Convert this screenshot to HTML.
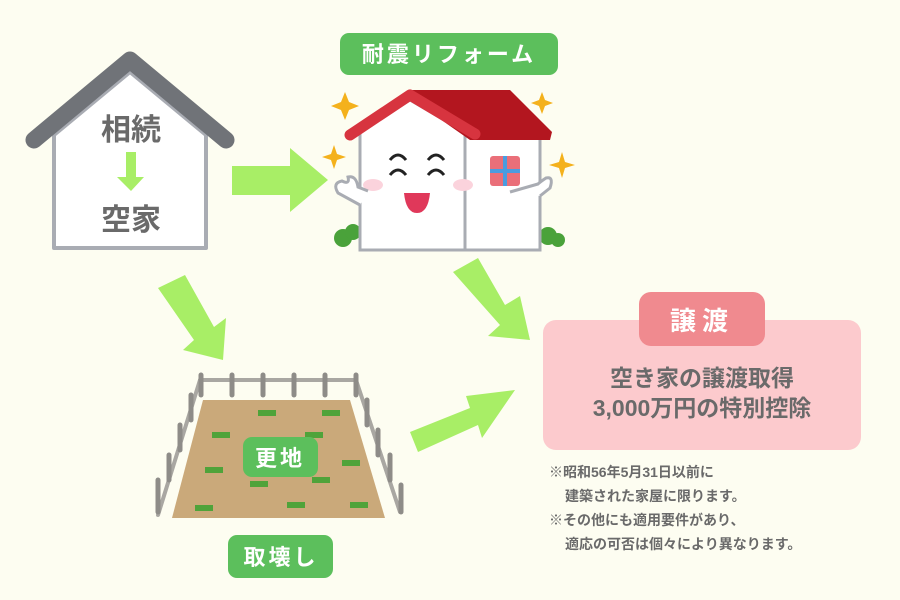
<!DOCTYPE html>
<html><head><meta charset="utf-8"><style>
html,body{margin:0;padding:0;background:#fdfdf1;}
svg{display:block}
text{font-family:"Liberation Sans","Noto Sans CJK JP",sans-serif;font-weight:bold}
</style></head><body>
<svg width="900" height="600" viewBox="0 0 900 600" xmlns="http://www.w3.org/2000/svg">
<rect width="900" height="600" fill="#fdfdf1"/>
<!-- gray house -->
<polygon points="54,135 130,72 206,135 206,248 54,248" fill="#fff" stroke="#a9acb3" stroke-width="4" stroke-linejoin="round"/>
<polyline points="34,140 130,60 226,140" fill="none" stroke="#707378" stroke-width="17" stroke-linecap="round" stroke-linejoin="round"/>
<text x="131" y="140" font-size="30" fill="#6a6a6a" text-anchor="middle">相続</text>
<polygon points="126,152 136,152 136,177 144,177 131,191 117,177 126,177" fill="#a8ee66"/>
<text x="131" y="230" font-size="30" fill="#6a6a6a" text-anchor="middle">空家</text>
<!-- arrows -->
<polygon points="232,166 290,166 290,148 328,180 290,212 290,195 232,195" fill="#a8ee66"/>
<polygon points="158,288 185,275 214,327 226,318 223,360 183,350 194,340" fill="#a8ee66"/>
<polygon points="453,272 478,258 505,305 520,296 530,340 488,336 500,325" fill="#a8ee66"/>
<polygon points="410,432 470,408 466,396 515,390 482,438 478,425 418,452" fill="#a8ee66"/>
<!-- reform label -->
<rect x="340" y="33" width="218" height="42" rx="9" fill="#5cbf5c"/>
<text x="449" y="62" font-size="22" fill="#fff" text-anchor="middle" letter-spacing="3">耐震リフォーム</text>
<!-- reform house -->
<circle cx="343" cy="238" r="9" fill="#4aa23a"/><circle cx="353" cy="232" r="8" fill="#4aa23a"/>
<circle cx="548" cy="236" r="9" fill="#4aa23a"/><circle cx="558" cy="240" r="7" fill="#4aa23a"/>
<polygon points="360,130 410,100 465,132 465,250 360,250" fill="#fff" stroke="#a9acb3" stroke-width="3"/>
<rect x="465" y="130" width="75" height="120" fill="#fff" stroke="#a9acb3" stroke-width="3"/>
<polygon points="410,90 510,90 552,132 550,140 470,140 410,98" fill="#b3161f"/>
<polyline points="350,135 410,95 475,134" fill="none" stroke="#d7343f" stroke-width="11" stroke-linecap="round" stroke-linejoin="round"/>
<path d="M390 160 q8 -10 16 0 M428 160 q8 -10 16 0 M390 175 q8 -10 16 0 M428 175 q8 -10 16 0" stroke="#222" stroke-width="3" fill="none"/>
<ellipse cx="373" cy="185" rx="10" ry="6" fill="#fbd3dc"/><ellipse cx="463" cy="185" rx="10" ry="6" fill="#fbd3dc"/>
<path d="M404 193 q14 0 26 0 q-2 20 -13 20 q-11 0 -13 -20z" fill="#e0385a"/>
<rect x="490" y="156" width="30" height="30" rx="3" fill="#ea6f79"/>
<rect x="503" y="156" width="4" height="30" fill="#4a9ce0"/><rect x="490" y="169" width="30" height="4" fill="#4a9ce0"/>
<path d="M360 205 l-22 -12 q-6 -10 4 -12 q8 4 6 -4 q8 -2 10 10 l10 4" fill="#fff" stroke="#a9acb3" stroke-width="3"/>
<path d="M540 196 l10 -8 q4 -12 -4 -10 q-6 4 -8 6 l-28 8" fill="#fff" stroke="#a9acb3" stroke-width="3"/>
<g fill="#f4b11c">
<path d="M345 92 l4 10 10 4 -10 4 -4 10 -4 -10 -10 -4 10 -4z"/>
<path d="M542 92 l3 8 8 3 -8 3 -3 8 -3 -8 -8 -3 8 -3z"/>
<path d="M334 145 l3 9 9 3 -9 3 -3 9 -3 -9 -9 -3 9 -3z"/>
<path d="M562 152 l3 10 10 3 -10 3 -3 10 -3 -10 -10 -3 10 -3z"/>
</g>
<!-- land -->
<g stroke="#a9a7a2" stroke-width="4" stroke-linecap="round" fill="none">
<line x1="200" y1="380" x2="356" y2="380"/>
<line x1="200" y1="380" x2="158" y2="515"/>
<line x1="356" y1="380" x2="400" y2="512"/>
</g>
<polygon points="203,400 350,400 385,518 172,518" fill="#caa97a"/>
<g stroke="#8e8c88" stroke-width="5" stroke-linecap="round">
<line x1="201" y1="375" x2="201" y2="395"/><line x1="232" y1="375" x2="232" y2="395"/><line x1="263" y1="375" x2="263" y2="395"/><line x1="294" y1="375" x2="294" y2="395"/><line x1="325" y1="375" x2="325" y2="395"/><line x1="356" y1="375" x2="356" y2="395"/>
<line x1="191" y1="395" x2="191" y2="420"/><line x1="180" y1="425" x2="180" y2="450"/><line x1="169" y1="455" x2="169" y2="480"/><line x1="158" y1="480" x2="158" y2="512"/>
<line x1="367" y1="400" x2="367" y2="425"/><line x1="378" y1="430" x2="378" y2="455"/><line x1="390" y1="455" x2="390" y2="480"/><line x1="401" y1="485" x2="401" y2="512"/>
</g>
<g fill="#4fa33a">
<rect x="258" y="410" width="18" height="6"/><rect x="322" y="410" width="18" height="6"/><rect x="212" y="432" width="18" height="6"/><rect x="305" y="432" width="18" height="6"/><rect x="342" y="460" width="18" height="6"/><rect x="205" y="467" width="18" height="6"/><rect x="250" y="481" width="18" height="6"/><rect x="312" y="477" width="18" height="6"/><rect x="195" y="505" width="18" height="6"/><rect x="287" y="502" width="18" height="6"/><rect x="350" y="502" width="18" height="6"/>
</g>
<rect x="243" y="437" width="75" height="40" rx="9" fill="#5cbf5c"/>
<text x="280" y="466" font-size="22" fill="#fff" text-anchor="middle" letter-spacing="3">更地</text>
<rect x="228" y="535" width="105" height="43" rx="9" fill="#5cbf5c"/>
<text x="281" y="565" font-size="22" fill="#fff" text-anchor="middle" letter-spacing="3">取壊し</text>
<!-- transfer box -->
<rect x="543" y="320" width="318" height="130" rx="13" fill="#fccacd"/>
<rect x="639" y="292" width="126" height="54" rx="12" fill="#f08a8f"/>
<text x="702" y="330" font-size="26" fill="#fff" text-anchor="middle" letter-spacing="6">譲渡</text>
<text x="702" y="386" font-size="23" fill="#6a6a6a" text-anchor="middle">空き家の譲渡取得</text>
<text x="702" y="416" font-size="23" fill="#6a6a6a" text-anchor="middle">3,000万円の特別控除</text>
<g font-size="14" fill="#6a6a6a">
<text x="549" y="477">※昭和56年5月31日以前に</text>
<text x="565" y="501">建築された家屋に限ります。</text>
<text x="549" y="525">※その他にも適用要件があり、</text>
<text x="565" y="549">適応の可否は個々により異なります。</text>
</g>
</svg>
</body></html>
